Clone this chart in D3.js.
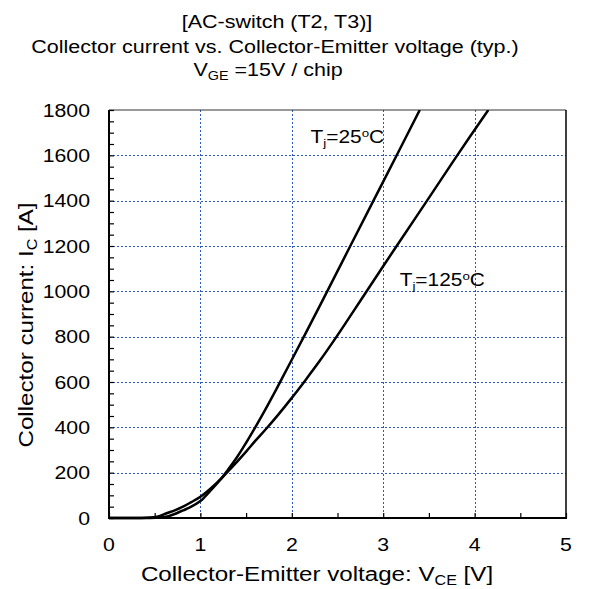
<!DOCTYPE html>
<html><head><meta charset="utf-8">
<script src="https://cdn.jsdelivr.net/npm/d3@7"></script>
<style>body{margin:0;background:#fff}svg{display:block}text{font-family:"Liberation Sans",Arial,sans-serif;fill:#000}</style>
</head><body>
<script>
const titleLines = ["[AC-switch (T2, T3)]", "Collector current vs. Collector-Emitter voltage (typ.)"];
const xTicks = [0, 1, 2, 3, 4, 5];
const yTicks = [0, 200, 400, 600, 800, 1000, 1200, 1400, 1600, 1800];
const vce25 = [0, 0.45, 0.55, 0.65, 0.74, 0.82, 0.90, 1.0, 1.05, 1.12, 1.23, 1.30, 1.40, 1.50, 1.60, 1.71, 1.80, 1.88, 2.0, 2.155, 2.39, 2.64, 2.895, 3.155, 3.40];
const ic25 = [0, 0, 2, 8, 21, 35, 50, 75, 94, 125, 175, 212, 268, 332, 400, 478, 545, 606, 698, 818, 1002, 1200, 1401, 1606, 1800];
const vce125 = [0, 0.35, 0.45, 0.55, 0.63, 0.72, 0.81, 0.90, 1.0, 1.1, 1.23, 1.30, 1.40, 1.50, 1.60, 1.725, 1.85, 2.0, 2.145, 2.30, 2.49, 2.81, 3.16, 3.48, 3.81, 4.15];
const ic125 = [0, 0, 2, 8, 21, 34, 50, 70, 94, 126, 175, 205, 248, 293, 340, 396, 455, 530, 606, 690, 800, 995, 1208, 1400, 1600, 1800];

const W = 592, H = 589;
const m = {l: 109, r: 566, t: 110, b: 518};
const svg = d3.select("body").append("svg").attr("width", W).attr("height", H);
const x = d3.scaleLinear().domain([0, 5]).range([m.l, m.r]);
const y = d3.scaleLinear().domain([0, 1800]).range([m.b, m.t]);

// grid
const grid = svg.append("g").attr("stroke", "#2a5cbf").attr("stroke-width", 1).attr("stroke-dasharray", "2,2");
grid.selectAll(".gx").data(xTicks.filter(d => d > 0 && d < 5)).join("line")
  .attr("x1", d => Math.round(x(d)) + 0.5).attr("x2", d => Math.round(x(d)) + 0.5)
  .attr("y1", m.t).attr("y2", m.b);
grid.selectAll(".gy").data(yTicks.filter(d => d > 0 && d < 1800)).join("line")
  .attr("y1", d => Math.round(y(d)) + 0.5).attr("y2", d => Math.round(y(d)) + 0.5)
  .attr("x1", m.l).attr("x2", m.r);

// frame top/right
svg.append("line").attr("x1", m.l).attr("x2", m.r).attr("y1", m.t).attr("y2", m.t).attr("stroke", "#333").attr("stroke-width", 1);
svg.append("line").attr("x1", m.r).attr("x2", m.r).attr("y1", m.t).attr("y2", m.b).attr("stroke", "#000").attr("stroke-width", 1.5);

// axes
const xAxis = d3.axisBottom(x).tickValues(d3.range(0, 5.01, 0.5)).tickSize(-5).tickFormat("");
const gx = svg.append("g").attr("transform", `translate(0,${m.b})`).call(xAxis);
gx.select(".domain").remove();
gx.selectAll(".tick line").attr("stroke", "#000").attr("stroke-width", 1.2);
svg.append("line").attr("x1", m.l - 1).attr("x2", m.r + 1).attr("y1", m.b).attr("y2", m.b).attr("stroke", "#000").attr("stroke-width", 2);

const yAxis = d3.axisLeft(y).tickValues(d3.range(0, 1801, 50)).tickSize(-5).tickFormat("");
const gy = svg.append("g").attr("transform", `translate(${m.l},0)`).call(yAxis);
gy.select(".domain").remove();
gy.selectAll(".tick line").attr("stroke", "#000").attr("stroke-width", 1.2);
svg.append("line").attr("x1", m.l).attr("x2", m.l).attr("y1", m.t).attr("y2", m.b + 1).attr("stroke", "#000").attr("stroke-width", 2);

// stretched text helper
function stext(px, py, size, sx, anchor, rot) {
  const g = svg.append("g").attr("transform", `translate(${px},${py})` + (rot ? ` rotate(${rot})` : "") + ` scale(${sx},1)`);
  return g.append("text").attr("text-anchor", anchor).attr("font-size", size);
}

// tick labels
xTicks.forEach(d => stext(x(d), 551, 18.5, 1.15, "middle").text(d));
yTicks.forEach(d => stext(90, y(d) + 6.5, 18.5, 1.15, "end").text(d));

// curves
const line = d3.line().x(d => x(d[0])).y(d => y(d[1])).curve(d3.curveCatmullRom.alpha(0.5));
svg.append("clipPath").attr("id", "c").append("rect").attr("x", m.l).attr("y", m.t).attr("width", m.r - m.l).attr("height", m.b - m.t + 2);
[[vce25, ic25], [vce125, ic125]].forEach(([vx, vy]) => {
  svg.append("path").datum(vx.map((v, i) => [v, vy[i]])).attr("d", line)
    .attr("fill", "none").attr("stroke", "#000").attr("stroke-width", 2.5).attr("clip-path", "url(#c)");
});

// titles
stext(277, 28, 18.7, 1.15, "middle").text(titleLines[0]);
stext(275, 53, 18.7, 1.15, "middle").text(titleLines[1]);
const t3 = stext(268, 75.5, 18.7, 1.15, "middle");
t3.append("tspan").text("V");
t3.append("tspan").attr("font-size", 12.5).attr("dy", 4).text("GE");
t3.append("tspan").attr("dy", -4).text(" =15V / chip");

// axis titles
const xl = stext(317, 581, 21, 1.15, "middle");
xl.append("tspan").text("Collector-Emitter voltage: V");
xl.append("tspan").attr("font-size", 14).attr("dy", 4).text("CE");
xl.append("tspan").attr("dy", -4).text(" [V]");
const yl = stext(33, 325, 21, 1.15, "middle", -90);
yl.append("tspan").text("Collector current: I");
yl.append("tspan").attr("font-size", 14).attr("dy", 4).text("C");
yl.append("tspan").attr("dy", -4).text(" [A]");

// annotations
function tlabel(px, py, temp) {
  const t = stext(px, py, 18, 1.16, "start");
  t.append("tspan").text("T");
  t.append("tspan").attr("font-size", 11.5).attr("dy", 4).text("j");
  t.append("tspan").attr("dy", -4).text("=" + temp);
  t.append("tspan").attr("font-size", 11.5).attr("dy", -6).text("o");
  t.append("tspan").attr("dy", 6).text("C");
}
tlabel(x(2.205), y(1680) + 6, "25");
tlabel(x(3.18), y(1050) + 6, "125");
</script>
</body></html>
